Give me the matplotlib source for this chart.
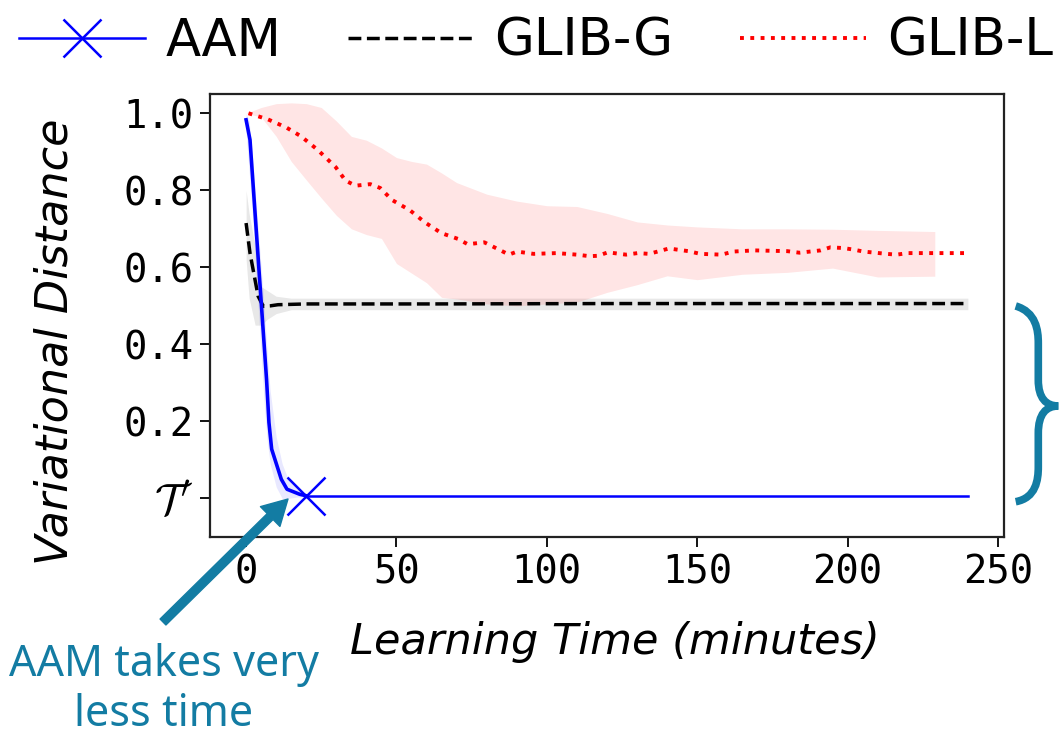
import numpy as np
import matplotlib.pyplot as plt
import matplotlib.transforms as mtransforms
from matplotlib.path import Path
from matplotlib.patches import PathPatch

plt.rcParams["mathtext.fontset"] = "cm"

# =========================
# DATA
# =========================

# AAM: fast drop, then flat at T'
aam_x = [0, 1.3, 6.8, 7.6, 8.5, 11.7, 13.6, 17.8, 20]
aam_y = [0.983, 0.931, 0.309, 0.197, 0.128, 0.05, 0.024, 0.011, 0.007]
aam_flat_x = [20, 240]
aam_flat_y = [0.006, 0.006]
aam_band_x = [0, 1, 2, 4, 6, 7, 8, 10, 12, 14, 17, 20]
aam_band_hi = [1.0, 0.98, 0.90, 0.70, 0.50, 0.38, 0.28, 0.16, 0.09, 0.05, 0.025, 0.012]
aam_band_lo = [0.95, 0.85, 0.75, 0.50, 0.25, 0.15, 0.09, 0.03, 0.0, 0.0, 0.004, 0.004]

# GLIB-G
glibg_x = [0, 1.3, 4, 5.7, 8, 10.6, 20, 60, 120, 180, 240]
glibg_y = [0.715, 0.637, 0.525, 0.499, 0.50, 0.503, 0.505, 0.505, 0.506, 0.506, 0.506]
glibg_band_x = [0, 1, 3, 5, 7, 10, 15, 240]
glibg_band_hi = [0.80, 0.74, 0.655, 0.55, 0.54, 0.525, 0.52, 0.52]
glibg_band_lo = [0.62, 0.52, 0.45, 0.45, 0.465, 0.48, 0.49, 0.49]

# GLIB-L
glibl_x = [0.8, 7.3, 13.4, 18.3, 23.8, 29.8, 33.1, 36.4, 41.3, 44.6, 48.5, 54.5,
           59.4, 64.9, 70.4, 73.7, 79.2, 84.6, 87.4, 90.1, 95.6, 103.3, 109.9,
           114.2, 117, 120.3, 126.3, 130.2, 134, 140.6, 147.1, 151, 158.1, 162,
           169, 180, 184, 191, 194.3, 198.7, 202, 205.3, 213, 216.3, 220, 228.3, 240]
glibl_y = [1.0, 0.984, 0.963, 0.94, 0.905, 0.86, 0.825, 0.812, 0.816, 0.806, 0.775, 0.748,
           0.717, 0.689, 0.674, 0.66, 0.665, 0.644, 0.633, 0.641, 0.635, 0.637, 0.633,
           0.629, 0.63, 0.639, 0.633, 0.637, 0.635, 0.649, 0.642, 0.635, 0.633, 0.641,
           0.644, 0.642, 0.638, 0.644, 0.652, 0.65, 0.646, 0.641, 0.635, 0.633, 0.637, 0.637, 0.637]
glibl_band_x = [0, 5, 10, 15, 20, 25, 30, 35, 40, 45, 50, 55, 60, 65, 70, 75, 80, 90,
                100, 110, 120, 130, 140, 150, 165, 180, 195, 210, 229]
glibl_band_hi = [1.0, 1.015, 1.025, 1.027, 1.025, 1.015, 0.98, 0.94, 0.93, 0.91, 0.885,
                 0.875, 0.868, 0.845, 0.82, 0.805, 0.79, 0.772, 0.76, 0.758, 0.74, 0.718,
                 0.71, 0.705, 0.70, 0.70, 0.699, 0.696, 0.693]
glibl_band_lo = [1.0, 0.99, 0.94, 0.875, 0.827, 0.78, 0.735, 0.70, 0.685, 0.675, 0.61,
                 0.585, 0.56, 0.522, 0.518, 0.512, 0.505, 0.50, 0.505, 0.51, 0.535, 0.555,
                 0.578, 0.568, 0.582, 0.587, 0.598, 0.575, 0.577]

x_ticks = [0, 50, 100, 150, 200, 250]
y_ticks = [0.0, 0.2, 0.4, 0.6, 0.8, 1.0]
y_tick_labels = [r"$\mathcal{T}^{\prime}$", "0.2", "0.4", "0.6", "0.8", "1.0"]

TEAL = "#137ca3"

# =========================
# FIGURE
# =========================
W, H = 1061, 738
fig = plt.figure(figsize=(W / 100, H / 100), dpi=100)
ax = fig.add_axes([210 / W, 1 - 537 / H, (1004 - 210) / W, (537 - 94) / H])

# pixel coords (origin top-left) -> figure
px = mtransforms.Affine2D().scale(1 / W, -1 / H).translate(0, 1) + fig.transFigure

# bands
ax.fill_between(glibg_band_x, glibg_band_lo, glibg_band_hi, color="black", alpha=0.09, lw=0)
ax.fill_between(glibl_band_x, glibl_band_lo, glibl_band_hi, color="red", alpha=0.1, lw=0)
ax.fill_between(aam_band_x, aam_band_lo, aam_band_hi, color="blue", alpha=0.09, lw=0)

# lines
ax.plot(glibg_x, glibg_y, color="black", ls="--", lw=2.5, label="GLIB-G")
ax.plot(glibl_x, glibl_y, color="red", ls=":", lw=2.8, label="GLIB-L")
ax.plot(aam_x, aam_y, color="blue", lw=2.6)
ax.plot(aam_flat_x, aam_flat_y, color="blue", lw=1.8, marker="x", markevery=[0],
        ms=28, mew=1.8, label="AAM")

ax.set_xlim(-12, 252)
ax.set_ylim(-0.1, 1.05)
ax.set_xticks(x_ticks)
ax.set_yticks(y_ticks)
ax.set_yticklabels(y_tick_labels)

for lab in ax.get_xticklabels() + ax.get_yticklabels():
    lab.set_fontfamily("DejaVu Sans Mono")
    lab.set_fontsize(28)
ax.get_yticklabels()[0].set_fontsize(32)
ax.tick_params(length=7, width=1.3, pad=5)
for s in ax.spines.values():
    s.set_linewidth(1.6)
    s.set_color("#222222")

ax.set_xlabel("Learning Time (minutes)", fontsize=31, style="italic")
ax.set_ylabel("Variational Distance", fontsize=32, style="italic")
ax.xaxis.set_label_coords(0.51, -0.19)
ax.yaxis.set_label_coords(-0.168, 0.44)

# legend
h, l = ax.get_legend_handles_labels()
order = [l.index("AAM"), l.index("GLIB-G"), l.index("GLIB-L")]
fig.legend([h[i] for i in order], [l[i] for i in order], loc="upper center",
           bbox_to_anchor=(0.505, 1.04), ncol=3, frameon=False, fontsize=37,
           handlelength=2.45, handletextpad=0.4, columnspacing=1.3)

# =========================
# ANNOTATIONS
# =========================
ax.annotate("", xy=(288, 499), xytext=(163, 622), xycoords=px, textcoords=px,
            annotation_clip=False,
            arrowprops=dict(width=6, headwidth=20, headlength=18, color=TEAL, shrink=0))
fig.text(164, 690, "AAM takes very\nless time", transform=px, ha="center", va="center",
         fontsize=31, family="Noto Sans", color=TEAL, linespacing=1.2)

# curly brace
verts = [(1015.7, 306), (1036, 312), (1038.3, 330), (1038.3, 343.3),
         (1038.3, 380),
         (1038.3, 398), (1046, 406), (1058.3, 406),
         (1046, 406), (1038.3, 414), (1038.3, 433.3),
         (1038.3, 466.7),
         (1038.3, 480), (1036, 498), (1015.7, 501.7)]
codes = [Path.MOVETO, Path.CURVE4, Path.CURVE4, Path.CURVE4,
         Path.LINETO,
         Path.CURVE4, Path.CURVE4, Path.CURVE4,
         Path.CURVE4, Path.CURVE4, Path.CURVE4,
         Path.LINETO,
         Path.CURVE4, Path.CURVE4, Path.CURVE4]
fig.patches.append(PathPatch(Path(verts, codes), transform=px, fill=False,
                             edgecolor=TEAL, lw=5.5, capstyle="butt"))

plt.savefig("out.png", dpi=100)
